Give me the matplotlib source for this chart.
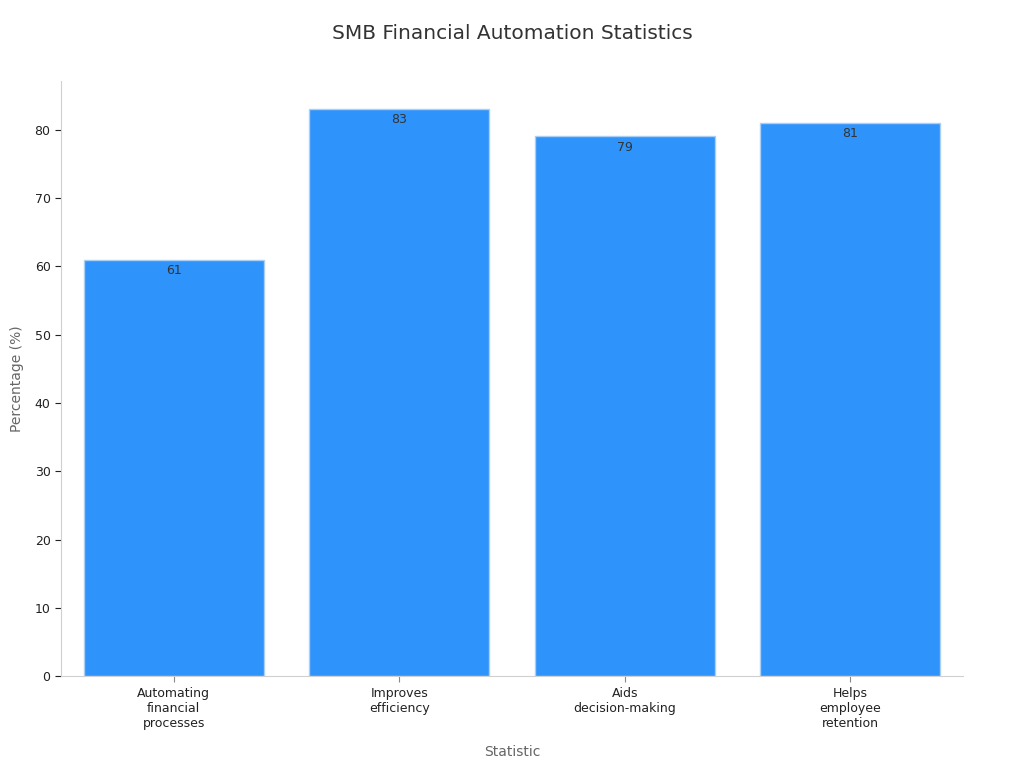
import matplotlib
matplotlib.use("Agg")
import matplotlib.pyplot as plt

categories = ["Automating\nfinancial\nprocesses", "Improves\nefficiency", "Aids\ndecision-making", "Helps\nemployee\nretention"]
values = [61, 83, 79, 81]

fig = plt.figure(figsize=(10.24, 7.68), dpi=100)
ax = fig.add_axes([0.0596, 0.1193, 0.8808, 0.7755])

bars = ax.bar(range(len(values)), values, width=0.8, color="#2E93FA",
              edgecolor="#A9CFF5", linewidth=1.0)
for i, v in enumerate(values):
    ax.text(i, v - 0.6, str(v), ha="center", va="top", fontsize=9, color="#333333")

ax.set_xlim(-0.5, len(values) - 0.5)
ax.set_ylim(0, max(values) * 1.05)
ax.set_xticks(range(len(values)))
ax.set_xticklabels(categories, fontsize=9, color="#222222")
ax.set_yticks(range(0, 81, 10))
ax.tick_params(axis="y", labelsize=9, colors="#222222", length=4)
ax.tick_params(axis="x", color="#888888", length=4)

for s in ["top", "right"]:
    ax.spines[s].set_visible(False)
for s in ["left", "bottom"]:
    ax.spines[s].set_color("#D0D0D0")

ax.set_xlabel("Statistic", fontsize=10, color="#666666", labelpad=11)
ax.set_ylabel("Percentage (%)", fontsize=10, color="#666666", labelpad=8)
fig.text(0.5, 0.957, "SMB Financial Automation Statistics", ha="center", va="center",
         fontsize=14.5, color="#333333")

fig.savefig("out.png", dpi=100)
